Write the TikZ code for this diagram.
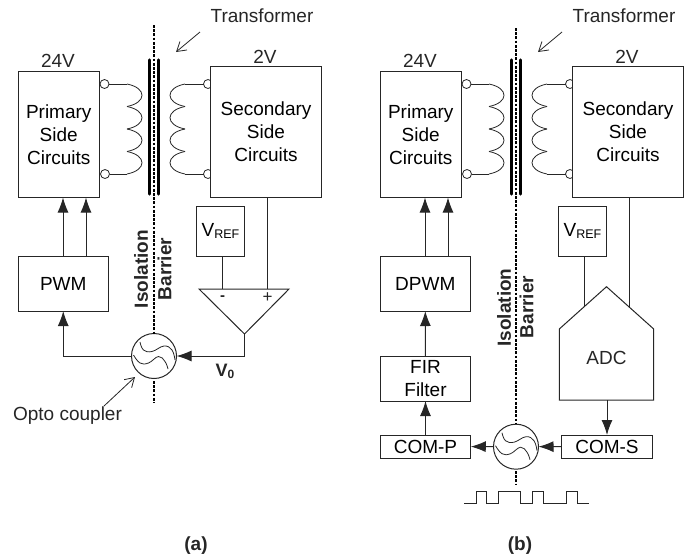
\documentclass[tikz,border=0pt]{standalone}
\usepackage{fontspec}
\setmainfont{Liberation Sans}
\usetikzlibrary{arrows.meta,positioning}
\colorlet{ink}{black!85}
\newcommand{\sizetxt}{\fontsize{19}{23}\selectfont}
\newcommand{\vreftxt}{V{\fontsize{12.5}{14}\selectfont\raisebox{-2.5pt}{REF}}}
\tikzset{
  block/.style={draw=ink,fill=white,line width=1pt,inner sep=0pt,outer sep=0pt,align=center},
  term/.style={circle,draw=ink,fill=white,line width=.8pt,minimum size=9pt,inner sep=0pt,outer sep=0pt},
  opto/.style={circle,draw=ink,fill=white,line width=1pt,minimum size=45pt,inner sep=0pt,outer sep=0pt},
  barrier/.style={line width=2.6pt,black,dash pattern=on 2.8pt off 1.4pt},
  core/.style={line width=3.4pt,black,line cap=round},
  wire/.style={draw=ink,line width=1pt},
  thinarrow/.style={draw=ink,line width=.8pt,-{Straight Barb[length=9pt,width=11pt]}},
  lbl/.style={inner sep=0pt,outer sep=0pt,text=ink},
  optowave/.pic={
    \draw[ink,line width=.8pt] plot[smooth,tension=.7] coordinates {(-14,-14) (-10.5,-6) (-2,-4.5) (10,-10) (18,-6) (21,4)};
    \draw[ink,line width=.8pt] plot[smooth,tension=.7] coordinates {(-20.5,-1) (-14,7) (-5.5,7) (4.5,.5) (11,5.5) (14,13)};
  }
}
\begin{document}
\begin{tikzpicture}[x=1pt,y=-1pt,>={Latex[length=15pt,width=11pt]},every node/.style={font=\sizetxt}]
\useasboundingbox (0,0) rectangle (693,558);
% parts that both panels share
\foreach \p/\dx/\ctrl in {a/0/PWM,b/362/DPWM}{
\begin{scope}[xshift=\dx pt]
\draw[core] (149.7,60)--(149.7,194);
\draw[core] (158.7,60)--(158.7,194);
\node[term] (tpa\p) at (104.5,84) {};
\node[term] (tpb\p) at (105,174) {};
\node[term] (tsa\p) at (208,84) {};
\node[term] (tsb\p) at (208,174) {};
\coordinate (cpa\p) at (127,84);
\coordinate (cpb\p) at (127,174);
\coordinate (csa\p) at (185,84);
\coordinate (csb\p) at (185,174);
\draw[wire,line width=.8pt] (tpa\p)--(cpa\p);
\draw[wire,line width=.8pt] (tpb\p)--(cpb\p);
\draw[wire,line width=.8pt] (tsa\p)--(csa\p);
\draw[wire,line width=.8pt] (tsb\p)--(csb\p);
\foreach \y in {84,106.5,129,151.5}{
  \draw[wire,line width=.8pt] (127,\y) .. controls (147,\y+4) and (147,\y+18.5) .. (127,\y+22.5);
  \draw[wire,line width=.8pt] (185,\y) .. controls (165,\y+4) and (165,\y+18.5) .. (185,\y+22.5);
}
\node[block,minimum width=81.5pt,minimum height=126.5pt] (prim\p) at (58.75,134.25) {Primary\\Side\\Circuits};
\node[block,minimum width=111pt,minimum height=131pt] (sec\p) at (266,132) {Secondary\\Side\\Circuits};
\node[block,minimum width=47.5pt,minimum height=50pt] (vref\p) at (220.5,231) {\vreftxt};
\node[block,minimum width=90.5pt,minimum height=54.5pt] (ctrl\p) at (63.25,283.75) {\ctrl};
\node[lbl] (lowv\p) at (58,61) {24V};
\node[lbl] (highv\p) at (265,57) {2V};
\node[lbl] (tlbl\p) at (262,16) {Transformer};
\coordinate (tarr\p) at (200,32);
\coordinate (tcore\p) at (176,52);
\draw[thinarrow] (tarr\p)--(tcore\p);
\coordinate (ca\p) at (63,256.5);
\coordinate (cb\p) at (86,256.5);
\draw[wire,->] (ca\p)--(ca\p |- prim\p.south);
\draw[wire,->] (cb\p)--(cb\p |- prim\p.south);
\end{scope}
}
% panel (a)
\node[opto] (optoa) at (154,356) {};
\pic at (optoa) {optowave};
\coordinate (bartopa) at (154,25);
\coordinate (barlowa) at (154,381);
\coordinate (barenda) at (154,403);
\draw[barrier] (bartopa)--(optoa);
\draw[barrier] (barlowa)--(barenda);
\node[lbl,rotate=90,font=\sizetxt\bfseries] (isoa) at (141,269) {Isolation};
\node[lbl,rotate=90,font=\sizetxt\bfseries] (bara) at (164.5,269) {Barrier};
\coordinate (ampl) at (199,289);
\coordinate (ampr) at (289,289);
\coordinate (ampo) at (244.5,334);
\coordinate (ampm) at (222,289);
\coordinate (ampp) at (267,289);
\draw[wire] (ampl)--(ampr)--(ampo)--cycle;
\draw[wire] (ampm |- vrefa.south)--(ampm);
\draw[wire] (ampp |- seca.south)--(ampp);
\node[lbl,font=\fontsize{15}{15}\selectfont\bfseries] (minus) at (222.5,298) {-};
\node[lbl,font=\fontsize{17}{17}\selectfont] (plus) at (267.5,298) {+};
\draw[wire,->] (ampo) |- (optoa);
\draw[wire,->] (optoa) -| (ctrla);
\node[lbl,font=\fontsize{18}{18}\selectfont\bfseries] (vout) at (225,371) {V{\fontsize{12}{12}\selectfont\raisebox{-2pt}{0}}};
\node[lbl] (optolbl) at (67.5,416) {Opto coupler};
\coordinate (optotail) at (104,406);
\coordinate (optohead) at (135,377);
\draw[thinarrow] (optotail)--(optohead);
\node[lbl,font=\sizetxt\bfseries] (capa) at (196,546) {(a)};
% panel (b)
\node[opto] (optob) at (516,446.7) {};
\pic at (optob) {optowave};
\coordinate (bartopb) at (516,28);
\coordinate (barlowb) at (516,471);
\coordinate (barendb) at (516,485);
\draw[barrier] (bartopb)--(optob);
\draw[barrier] (barlowb)--(barendb);
\node[lbl,rotate=90,font=\sizetxt\bfseries] (isob) at (504,307.5) {Isolation};
\node[lbl,rotate=90,font=\sizetxt\bfseries] (barb) at (526.7,307) {Barrier};
\node[block,minimum width=90.5pt,minimum height=45pt] (fir) at (425.5,378.5) {FIR\\Filter};
\node[block,minimum width=90.5pt,minimum height=23pt] (comp) at (425.5,446.5) {COM-P};
\node[block,minimum width=90.5pt,minimum height=23pt] (coms) at (607,446.5) {COM-S};
\coordinate (adcbl) at (559.3,400);
\coordinate (adcbr) at (653.7,400);
\coordinate (adcsr) at (653.7,329);
\coordinate (adctop) at (606.5,286.7);
\coordinate (adcsl) at (559.3,329);
\coordinate (adcm) at (584,306.8);
\coordinate (adcp) at (629,306.8);
\coordinate (adcout) at (607,400);
\draw[wire] (adcm |- vrefb.south)--(adcm);
\draw[wire] (adcp |- secb.south)--(adcp);
\draw[wire] (adcbl)--(adcbr)--(adcsr)--(adctop)--(adcsl)--cycle;
\node[lbl] (adc) at (606.5,358) {ADC};
\draw[wire,->] (fir)--(ctrlb);
\draw[wire,->] (comp)--(fir);
\draw[wire,->] (adcout)--(coms);
\draw[wire,->] (coms)--(optob);
\draw[wire,->] (optob)--(comp);
\draw[wire,line width=.8pt] (464,503.3)-|(476,491.3)-|(486.7,503.3)-|(498.3,491.3)-|(520.7,503.3)-|(532,491.3)-|(543.3,503.3)-|(566,491.3)-|(577.3,503.3)--(588.7,503.3);
\node[lbl,font=\sizetxt\bfseries] (capb) at (520,546) {(b)};
\end{tikzpicture}
\end{document}
